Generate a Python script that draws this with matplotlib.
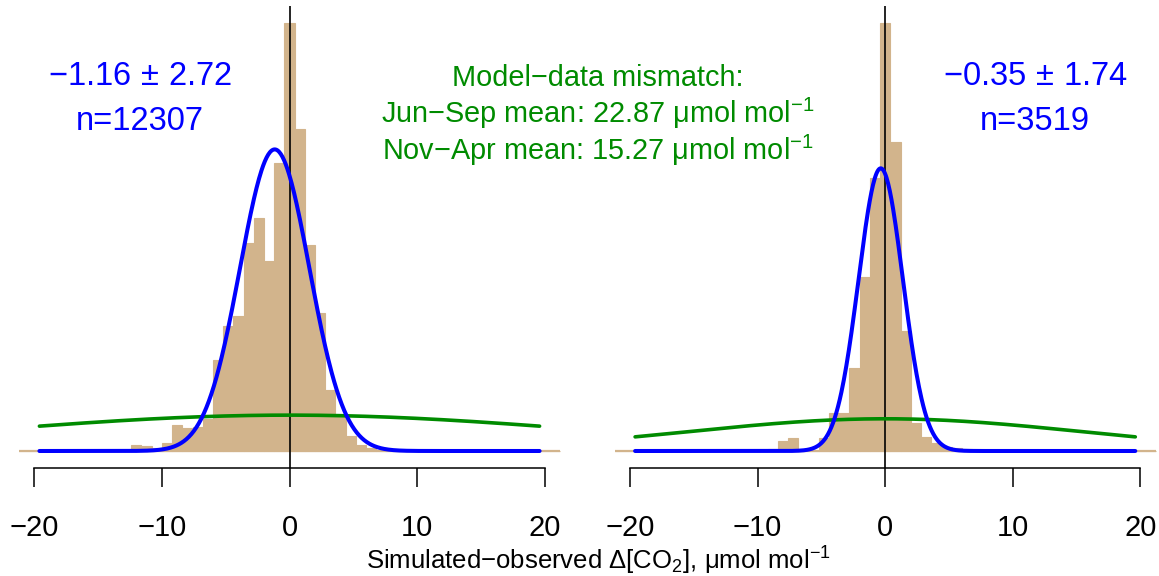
import numpy as np
import matplotlib
matplotlib.use('Agg')
import matplotlib.pyplot as plt

plt.rcParams['font.family'] = ['Liberation Sans', 'DejaVu Sans']
plt.rcParams['mathtext.fontset'] = 'custom'
plt.rcParams['mathtext.rm'] = 'Liberation Sans'
plt.rcParams['mathtext.it'] = 'Liberation Sans:italic'
plt.rcParams['mathtext.bf'] = 'Liberation Sans:bold'
plt.rcParams['mathtext.sf'] = 'Liberation Sans'

# ---------------- data ----------------
bin_width = 0.8
hist_range = (-21.2, 21.2)

# left panel (Jun-Sep)
left_centers = [-12.0, -11.2, -10.4, -9.6, -8.8, -8.0, -7.2, -6.4, -5.6, -4.8,
                -4.0, -3.2, -2.4, -1.6, -0.8, 0.0, 0.8, 1.6, 2.4, 3.2,
                4.0, 4.8, 5.6, 6.4, 7.2, 8.0]
left_density = [0.0029, 0.0024, 0.0013, 0.0040, 0.0126, 0.0113, 0.0117, 0.0154, 0.0442, 0.0608,
                0.0656, 0.1010, 0.1131, 0.0924, 0.1399, 0.2080, 0.1564, 0.1002, 0.0673, 0.0297,
                0.0175, 0.0073, 0.0029, 0.0013, 0.0005, 0.0003]
left_mean, left_sd, left_n = -1.16, 2.72, 12307
left_mismatch = 22.87   # Jun-Sep

# right panel (Nov-Apr)
right_centers = [-9.6, -8.8, -8.0, -7.2, -6.4, -5.6, -4.8, -4.0, -3.2, -2.4,
                 -1.6, -0.8, 0.0, 0.8, 1.6, 2.4, 3.2, 4.0, 4.8, 5.6,
                 6.4, 7.2]
right_density = [0.0012, 0.0016, 0.0084, 0.0103, 0.0008, 0.0012, 0.0103, 0.0306, 0.0306, 0.0671,
                 0.1414, 0.2212, 0.3469, 0.2510, 0.0977, 0.0227, 0.0114, 0.0065, 0.0032, 0.0024,
                 0.0016, 0.0008]
right_mean, right_sd, right_n = -0.35, 1.74, 3519
right_mismatch = 15.27  # Nov-Apr

curve_range = (-19.6, 19.6)
xticks = [-20, -10, 0, 10, 20]

TAN = '#D2B48C'
BLUE = '#0000FF'
GREEN = '#008B00'

W, H = 1159, 576
fig = plt.figure(figsize=(W / 100, H / 100), dpi=100)

px_per_unit = 12.76
plot_top, plot_bottom = 6.2, 468.1


def dnorm(x, m, s):
    return np.exp(-0.5 * ((x - m) / s) ** 2) / (s * np.sqrt(2 * np.pi))


def panel(zero_px, xlim, centers, dens, mean, sd, mismatch):
    x0 = zero_px + xlim[0] * px_per_unit
    width = (xlim[1] - xlim[0]) * px_per_unit
    ax = fig.add_axes([x0 / W, (H - plot_bottom) / H, width / W,
                       (plot_bottom - plot_top) / H])
    all_centers = np.round(np.arange(hist_range[0] + bin_width / 2, hist_range[1], bin_width), 2)
    lookup = {round(c, 2): d for c, d in zip(centers, dens)}
    heights = np.array([lookup.get(round(c, 2), 0.0) for c in all_centers])
    ax.bar(all_centers, heights, width=bin_width, color=TAN, edgecolor=TAN,
           linewidth=0.8, zorder=1)
    # zero-height bins drawn as a baseline (as R's hist does)
    ax.hlines(0, hist_range[0], hist_range[1], color=TAN, lw=1.6, zorder=1)
    xs = np.linspace(curve_range[0], curve_range[1], 600)
    ax.plot(xs, dnorm(xs, 0.0, mismatch), color=GREEN, lw=2.6, zorder=3,
            solid_capstyle='round')
    ax.plot(xs, dnorm(xs, mean, sd), color=BLUE, lw=2.9, zorder=4,
            solid_capstyle='round')
    ax.axvline(0, color='black', lw=1.2, zorder=2)
    M = max(dens)
    ax.set_ylim(-0.04 * M, 1.04 * M)
    ax.set_xlim(*xlim)
    for s in ['top', 'left', 'right']:
        ax.spines[s].set_visible(False)
    ax.spines['bottom'].set_bounds(xticks[0], xticks[-1])
    ax.spines['bottom'].set_linewidth(1.1)
    ax.set_xticks(xticks)
    ax.set_yticks([])
    ax.tick_params(axis='x', direction='out', length=13.7, width=1.1,
                   labelsize=21, pad=19.5)
    ax.patch.set_alpha(0)
    return ax


panel(289.5, (-22.5, 22.5), left_centers, left_density, left_mean, left_sd, left_mismatch)
panel(885.2, (-22.5, 21.4), right_centers, right_density, right_mean, right_sd, right_mismatch)


def ftxt(xp, yp, s, **kw):
    fig.text(xp / W, 1 - yp / H, s, ha='center', va='baseline', **kw)


# blue statistics
ftxt(140, 85, r'$%.2f\,\pm\,%.2f$' % (left_mean, left_sd), fontsize=23.5, color=BLUE)
ftxt(140, 130, 'n=%d' % left_n, fontsize=23.5, color=BLUE)
ftxt(1035, 85, r'$%.2f\,\pm\,%.2f$' % (right_mean, right_sd), fontsize=23.5, color=BLUE)
ftxt(1035, 130, 'n=%d' % right_n, fontsize=23.5, color=BLUE)

# green mismatch text
ftxt(597.5, 86, 'Model\u2212data mismatch:', fontsize=20.8, color=GREEN)
ftxt(597.5, 123.3, 'Jun\u2212Sep mean: %.2f \u03bcmol mol$^{-1}$' % left_mismatch,
     fontsize=20.8, color=GREEN)
ftxt(597.5, 160, 'Nov\u2212Apr mean: %.2f \u03bcmol mol$^{-1}$' % right_mismatch,
     fontsize=20.8, color=GREEN)

# x label
ftxt(598.5, 569.5, 'Simulated\u2212observed \u0394[CO$_2$], \u03bcmol mol$^{-1}$',
     fontsize=18.5, color='black')

fig.savefig('out.png', dpi=100)
